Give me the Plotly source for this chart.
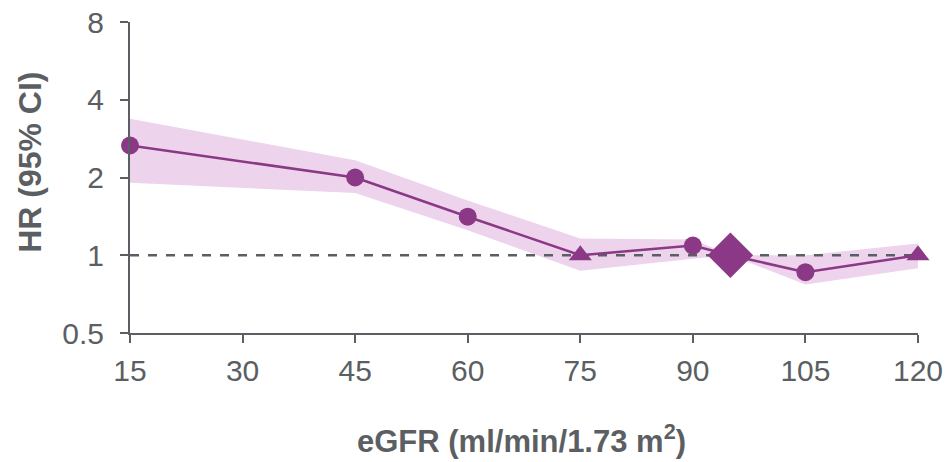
import plotly.graph_objects as go

egfr = [15, 45, 60, 75, 90, 95, 105, 120]
hr = [2.66, 2.0, 1.41, 1.0, 1.09, 1.0, 0.86, 1.0]
ci_low = [1.91, 1.74, 1.25, 0.87, 0.97, 1.0, 0.77, 0.89]
ci_high = [3.38, 2.33, 1.63, 1.16, 1.15, 1.0, 1.0, 1.11]
symbols = ["circle", "circle", "circle", "triangle-up", "circle", "diamond", "circle", "triangle-up"]
sizes = [18, 18, 18, 20, 18, 35, 18, 20]
y_ticks = [0.5, 1, 2, 4, 8]
y_tick_labels = ["0.5", "1", "2", "4", "8"]
x_ticks = [15, 30, 45, 60, 75, 90, 105, 120]
x_title = "<b>eGFR (ml/min/1.73 m<sup>2</sup>)</b>"
y_title = "<b>HR (95% CI)</b>"

purple = "#8B3886"
band = "#EDD4EC"
grey = "#5B5F63"

fig = go.Figure()
fig.add_trace(go.Scatter(x=egfr + egfr[::-1], y=ci_high + ci_low[::-1], fill="toself",
                         fillcolor=band, line=dict(width=0), mode="lines",
                         hoverinfo="skip", showlegend=False))
fig.add_trace(go.Scatter(x=[egfr[0], egfr[-1]], y=[1, 1], mode="lines",
                         line=dict(color=grey, width=2.5, dash="dash"), showlegend=False))
fig.add_trace(go.Scatter(x=egfr, y=hr, mode="lines+markers",
                         line=dict(color=purple, width=2.5),
                         marker=dict(symbol=symbols, size=sizes, color=purple, opacity=1,
                                     line=dict(width=0)),
                         cliponaxis=False, showlegend=False))

font = "Liberation Sans, Arial, sans-serif"
fig.update_layout(
    width=945, height=462,
    margin=dict(l=130, r=27, t=22, b=129, autoexpand=False),
    plot_bgcolor="white", paper_bgcolor="white",
    font=dict(family=font, color=grey, size=30),
    xaxis=dict(range=[15, 120], tickvals=x_ticks, showline=True, linecolor=grey,
               linewidth=2, ticks="outside", ticklen=8, tickwidth=2, tickcolor=grey,
               ticklabelstandoff=2, automargin=False,
               showgrid=False, zeroline=False, tickfont=dict(size=30)),
    yaxis=dict(type="log", range=[-0.30103, 0.90309], tickvals=y_ticks,
               ticktext=y_tick_labels, showline=True, linecolor=grey, linewidth=2,
               ticks="outside", ticklen=8, tickwidth=2, tickcolor=grey,
               ticklabelstandoff=10, automargin=False,
               showgrid=False, zeroline=False, tickfont=dict(size=30)),
    annotations=[
        dict(text=x_title, xref="paper", yref="paper", x=0.497, y=-0.34,
             xanchor="center", yanchor="middle", showarrow=False,
             font=dict(size=31, color=grey)),
        dict(text=y_title, xref="paper", yref="paper", x=-0.127, y=0.55,
             xanchor="center", yanchor="middle", showarrow=False, textangle=-90,
             font=dict(size=32, color=grey)),
    ],
)
fig.write_html("out.html")
